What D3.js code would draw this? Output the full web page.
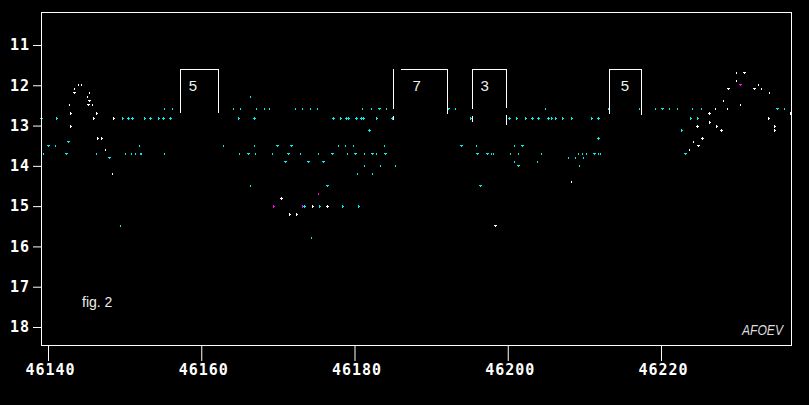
<!DOCTYPE html>
<html>
<head>
<meta charset="utf-8">
<script src="https://cdn.jsdelivr.net/npm/d3@7"></script>
<style>
  html, body { margin: 0; padding: 0; background: #000; }
  svg { display: block; }
</style>
</head>
<body>
<script>
// ---------------- data ----------------
const xDomain = [46139.086, 46236.966];
const yDomain = [10.181, 18.447];
const xTicks = [46140, 46160, 46180, 46200, 46220];
const yTicks = [11, 12, 13, 14, 15, 16, 17, 18];

// cyan observations [JD, magnitude]
const cyanPlus = [[46139.1,12.8],[46150.4,12.8],[46151.0,12.8],[46153.3,12.8],[46155.0,12.8],[46155.9,12.8],
  [46166.9,12.8],[46177.2,12.8],[46178.9,12.8],[46179.2,12.8],[46180.2,12.8],[46180.9,12.8],[46181.1,12.8],
  [46184.9,12.8],[46181.9,13.1],[46200.1,12.8],[46173.4,15.0],[46203.1,12.8],[46203.9,12.8],[46205.2,12.8],
  [46211.8,12.8],[46211.8,13.3]];
const cyanRight = [[46141.0,12.8],[46149.6,12.8],[46152.5,12.8],[46154.3,12.8],[46164.8,12.8],[46178.1,12.8],
  [46182.8,12.8],[46195.1,12.8],[46201.1,12.8],[46202.2,12.8],[46205.7,12.8],[46206.2,12.8],[46207.1,12.8],
  [46208.2,12.8],[46210.8,12.8],[46223.8,12.8],[46224.7,12.8],[46222.6,13.1],[46175.4,15.0],[46178.4,15.0],
  [46180.4,15.0]];
const cyanDown = [[46140.0,13.5],[46142.6,13.4],[46142.4,13.7],[46147.9,13.8],[46166.1,13.7],[46169.9,13.5],
  [46171.7,13.5],[46193.9,13.5],[46201.8,13.5],[46171.3,13.7],[46177.0,13.7],[46180.1,13.7],[46182.3,13.7],
  [46184.0,13.7],[46196.0,13.7],[46197.3,13.7],[46170.9,13.9],[46173.9,13.9],[46175.9,13.9],[46201.3,14.0],
  [46176.4,14.5],[46196.4,14.5],[46183.2,12.6],[46192.2,12.6],[46220.1,12.6],[46211.2,13.7],[46223.1,13.7],
  [46235.1,12.6]];
const cyanTick = [
  [46155.2,12.6],[46156.2,12.6],[46157.2,12.6],[46164.2,12.6],[46165.1,12.6],[46167.2,12.6],[46168.2,12.6],
  [46168.8,12.6],[46172.2,12.6],[46173.1,12.6],[46174.2,12.6],[46175.1,12.6],[46181.0,12.6],[46182.1,12.6],
  [46184.1,12.6],[46193.1,12.6],[46204.8,12.6],[46213.1,12.6],[46217.1,12.6],[46219.2,12.6],[46221.0,12.6],
  [46222.1,12.6],[46224.0,12.6],[46225.2,12.6],[46236.0,12.6],
  [46166.3,12.3],
  [46140.9,13.5],[46151.9,13.5],[46162.8,13.5],[46166.9,13.5],[46177.8,13.5],[46178.7,13.5],[46179.8,13.5],
  [46183.8,13.5],[46195.8,13.5],[46200.8,13.5],
  [46139.3,13.7],[46146.2,13.7],[46150.0,13.7],[46150.8,13.7],[46151.3,13.7],[46152.0,13.7],[46152.2,13.7],
  [46155.1,13.7],[46164.9,13.7],[46167.0,13.7],[46169.2,13.7],[46172.9,13.7],[46175.2,13.7],[46179.0,13.7],
  [46181.3,13.7],[46182.8,13.7],[46197.8,13.7],[46198.1,13.7],[46200.3,13.7],[46201.3,13.7],[46204.3,13.7],
  [46209.2,13.7],[46209.7,13.7],[46210.2,13.7],[46211.8,13.7],[46212.1,13.7],
  [46207.8,13.8],[46208.8,13.8],[46209.8,13.8],
  [46200.8,13.9],[46203.8,13.9],
  [46181.3,14.0],[46183.3,14.0],[46185.3,14.0],[46209.3,14.0],
  [46180.3,14.2],[46182.3,14.2],
  [46166.3,14.5],[46149.4,15.5],[46174.3,15.8]];

// white observations
const whiteTick = [[46143.4,12.1],[46143.9,12.0],[46144.3,12.0],[46145.3,12.2],[46145.1,12.3],[46145.8,12.5],
  [46142.8,12.5],[46147.4,13.6],[46148.3,14.2],[46208.2,14.4],[46229.8,11.7],[46229.8,11.9],[46232.7,12.0],
  [46233.0,12.1],[46234.1,12.2],[46228.1,12.4],[46230.3,12.5],[46227.0,12.6],[46228.6,12.6],[46224.2,13.4],
  [46223.6,13.6]];
const whiteDown = [[46143.4,12.2],[46145.4,12.4],[46145.2,12.5],[46198.4,15.5],[46230.8,11.7],[46228.8,12.1],
  [46232.2,12.1],[46224.8,13.5]];
const whiteRight = [[46142.9,12.7],[46146.3,12.7],[46142.9,13.0],[46145.9,12.8],[46148.5,12.8],[46146.4,13.3],
  [46146.9,13.3],[46174.4,15.0],[46171.4,15.2],[46172.4,15.2],[46233.9,12.8],[46236.8,12.7],[46226.2,12.9],
  [46227.2,13.0],[46234.7,13.0],[46234.8,13.1]];
const whitePlus = [[46170.4,14.8],[46176.4,15.0],[46226.2,12.7],[46224.7,13.0],[46227.8,13.1],[46225.3,13.3]];
// [JD, bright end, faint end]
const whiteBars = [[46185.1,12.76,12.86],[46195.45,12.77,12.92],[46199.9,12.74,12.99]];

// magenta observations
const magentaTick = [[46175.3,14.7]];
const magentaRight = [[46169.4,15.0],[46173.2,15.0]];
const magentaDown = [[46230.3,12.0]];

// interval brackets
const bracketStart = [46157.3, 46185.1, 46195.45, 46213.3];
const bracketTopStart = [46157.3, 46186.1, 46195.45, 46213.3];
const bracketEnd = [46162.2, 46192.2, 46199.9, 46217.4];
const bracketTop = [11.6, 11.6, 11.6, 11.6];
const bracketLeftBottom = [12.67, 12.57, 12.57, 12.69];
const bracketRightBottom = [12.67, 12.69, 12.55, 12.72];
const bracketLabels = ["5", "7", "3", "5"];
const bracketLabelJD = [46158.9, 46188.1, 46197.0, 46215.3];
const bracketLabelMag = 12.13;

// ---------------- chart ----------------
const W = 809, H = 405;
const svg = d3.select("body").append("svg").attr("width", W).attr("height", H)
  .style("background", "#000");

const x = d3.scaleLinear().domain(xDomain).range([41, 791]);
const y = d3.scaleLinear().domain(yDomain).range([12, 345]);

const CYAN = "#00f0f0", WHITE = "#ffffff", MAGENTA = "#ff00ff";

function shapePath(shape, px, py) {
  switch (shape) {
    case "tick":  return `M${px},${py-1}h1v2h-1Z`;
    case "down":  return `M${px-1},${py-1}h3v1h-3Z M${px},${py}h1v1h-1Z`;
    case "right": return `M${px},${py-1}h1v3h-1Z M${px+1},${py}h1v1h-1Z`;
    case "plus":  return `M${px-1},${py}h3v1h-3Z M${px},${py-1}h1v1h-1Z M${px},${py+1}h1v1h-1Z`;
  }
}
const marks = svg.append("g").attr("shape-rendering", "crispEdges");
function drawSet(data, shape, color) {
  marks.append("g").selectAll("path").data(data).join("path")
    .attr("d", d => shapePath(shape, Math.round(x(d[0])), Math.round(y(d[1]))))
    .attr("fill", color);
}
drawSet(magentaTick, "tick", MAGENTA);
drawSet(magentaRight, "right", MAGENTA);
drawSet(magentaDown, "down", MAGENTA);
drawSet(cyanTick, "tick", CYAN);
drawSet(cyanDown, "down", CYAN);
drawSet(cyanRight, "right", CYAN);
drawSet(cyanPlus, "plus", CYAN);
drawSet(whiteTick, "tick", WHITE);
drawSet(whiteDown, "down", WHITE);
drawSet(whiteRight, "right", WHITE);
drawSet(whitePlus, "plus", WHITE);

marks.append("g").selectAll("rect").data(whiteBars).join("rect")
  .attr("x", d => Math.floor(x(d[0])))
  .attr("y", d => Math.round(y(d[1])))
  .attr("width", 1)
  .attr("height", d => Math.round(y(d[2])) - Math.round(y(d[1])))
  .attr("fill", WHITE);

// brackets
const br = svg.append("g").attr("shape-rendering", "crispEdges");
bracketStart.forEach((s, i) => {
  const xl = Math.floor(x(s)) + 0.5;
  const xt = Math.floor(x(bracketTopStart[i])) + 0.5;
  const xr = Math.floor(x(bracketEnd[i])) + 0.5;
  const yt = Math.floor(y(bracketTop[i])) + 0.5;
  const yl = Math.floor(y(bracketLeftBottom[i])) + 0.5;
  const yr = Math.floor(y(bracketRightBottom[i])) + 0.5;
  br.append("path")
    .attr("d", `M${xl},${yl}V${yt} M${xt},${yt}H${xr} M${xr},${yt}V${yr}`)
    .attr("fill", "none").attr("stroke", WHITE).attr("stroke-width", 1)
    .attr("stroke-linecap", "square");
  br.append("text")
    .attr("x", x(bracketLabelJD[i])).attr("y", y(bracketLabelMag))
    .attr("text-anchor", "middle")
    .attr("font-family", "Liberation Sans, Arial, sans-serif")
    .attr("font-size", 15).attr("fill", "#eeeeee")
    .text(bracketLabels[i]);
});

// axes
const axisFont = "DejaVu Sans Mono, monospace";
const gy = svg.append("g").attr("transform", "translate(41,0)")
  .call(d3.axisLeft(y).tickValues(yTicks).tickSize(8).tickPadding(3).tickFormat(d3.format("d")));
gy.select(".domain").remove();
gy.selectAll("line").attr("stroke", WHITE);
gy.selectAll("text").attr("fill", WHITE).attr("font-family", axisFont).attr("font-weight", "bold")
  .attr("font-size", 15).style("letter-spacing", "1px");
gy.attr("font-family", null).attr("font-size", null);

const gx = svg.append("g").attr("transform", "translate(0,345)")
  .call(d3.axisBottom(x).tickValues(xTicks).tickSize(16).tickPadding(3).tickFormat(d3.format("d")));
gx.select(".domain").remove();
gx.selectAll("line").attr("stroke", WHITE);
gx.selectAll("text").attr("fill", WHITE).attr("font-family", axisFont).attr("font-weight", "bold")
  .attr("font-size", 15).attr("dx", 2).style("letter-spacing", "1px");
gx.attr("font-family", null).attr("font-size", null);

// frame
svg.append("rect").attr("x", 41.5).attr("y", 12.5).attr("width", 750).attr("height", 333)
  .attr("fill", "none").attr("stroke", WHITE).attr("stroke-width", 1)
  .attr("shape-rendering", "crispEdges");

// annotations
svg.append("text").attr("x", 82).attr("y", 306.5)
  .attr("font-family", "Liberation Sans, Arial, sans-serif").attr("font-size", 14)
  .attr("fill", "#eeeeee").text("fig. 2");
svg.append("text").attr("x", 783).attr("y", 335).attr("text-anchor", "end")
  .attr("font-family", "Liberation Sans, Arial, sans-serif").attr("font-size", 14)
  .attr("font-style", "italic").attr("fill", "#dddddd")
  .attr("textLength", 41).attr("lengthAdjust", "spacingAndGlyphs")
  .text("AFOEV");
</script>
</body>
</html>
